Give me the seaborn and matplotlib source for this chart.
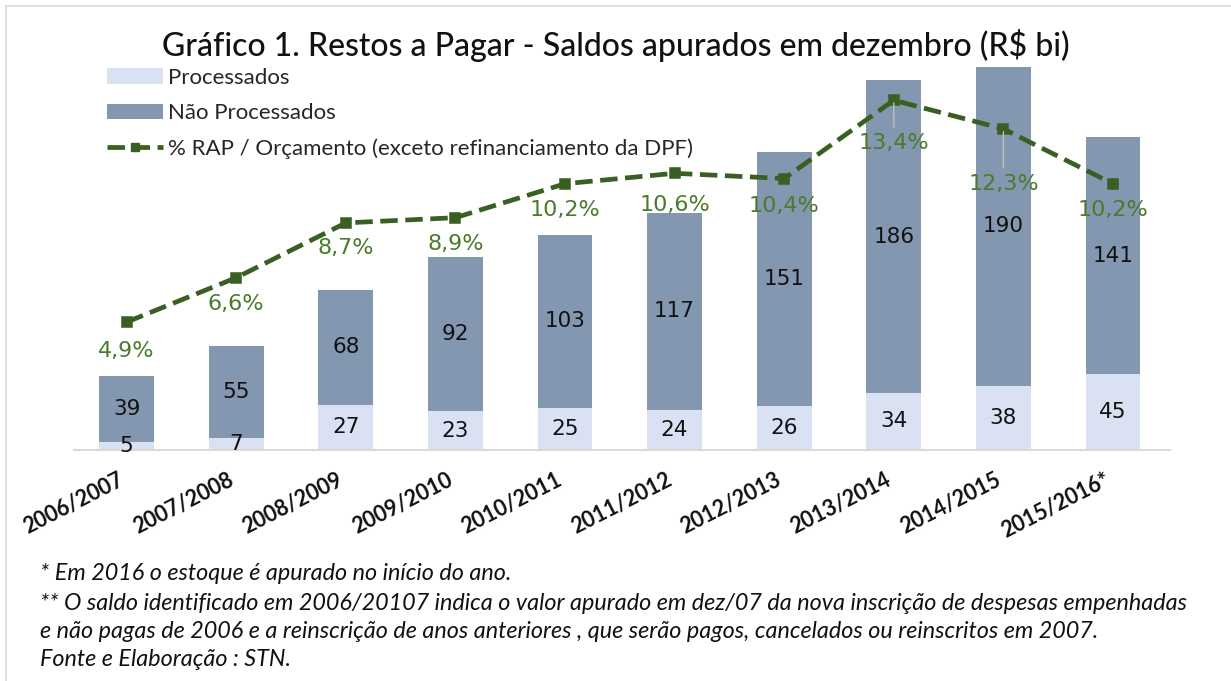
import numpy as np
import pandas as pd
import seaborn as sns
import matplotlib.pyplot as plt
import matplotlib.transforms as mtransforms
from matplotlib.patches import Patch
from matplotlib.lines import Line2D

# Restos a Pagar - saldos em dezembro (R$ bi)
periods = ["2006/2007", "2007/2008", "2008/2009", "2009/2010", "2010/2011",
           "2011/2012", "2012/2013", "2013/2014", "2014/2015", "2015/2016*"]
processados = [5, 7, 27, 23, 25, 24, 26, 34, 38, 45]
nao_processados = [39, 55, 68, 92, 103, 117, 151, 186, 190, 141]
pct_orcamento = [4.9, 6.6, 8.7, 8.9, 10.2, 10.6, 10.4, 13.4, 12.3, 10.2]

# label offsets below the points (pixels)
pct_offsets = [29, 26, 25, 26, 26, 32, 27, 43, 55, 26]

df = pd.DataFrame({
    "periodo": periods,
    "proc": processados,
    "nao_proc": nao_processados,
})
df["total"] = df["proc"] + df["nao_proc"]

light = "#D9E1F2"
dark = "#8497B0"
green = "#3A5F22"
green_txt = "#4B7A2B"

sns.set_theme(style="white")
plt.rcParams["font.family"] = ["DejaVu Sans"]

fig = plt.figure(figsize=(12.31, 6.81), dpi=100)
ax = fig.add_axes([74 / 1231, 1 - 450 / 681, (1170 - 74) / 1231, 390 / 681])

# stacked look: total bar in dark, processed part over it in light
sns.barplot(data=df, x="periodo", y="total", color=dark, saturation=1,
            width=0.5, ax=ax, edgecolor="none")
sns.barplot(data=df, x="periodo", y="proc", color=light, saturation=1,
            width=0.5, ax=ax, edgecolor="none")

ax.set_ylim(0, 232)
ax.set_xlim(-0.48, 9.52)
ax.set_xlabel("")
ax.set_ylabel("")
ax.set_yticks([])
for s in ["top", "right", "left"]:
    ax.spines[s].set_visible(False)
ax.spines["bottom"].set_color("#D9D9D9")
ax.spines["bottom"].set_linewidth(1.5)
ax.tick_params(axis="x", length=0, pad=14)
ax.set_xticks(range(len(periods)))
ax.set_xticklabels(periods, rotation=27, ha="right", va="top",
                   rotation_mode="anchor", fontsize=15.5, fontweight="bold",
                   family=["Lato", "DejaVu Sans"], color="#111111")
shift = mtransforms.ScaledTranslation(-9 / 100, 0, fig.dpi_scale_trans)
for lbl in ax.get_xticklabels():
    lbl.set_transform(lbl.get_transform() + shift)

for i in range(len(periods)):
    p = processados[i]
    n = nao_processados[i]
    ax.text(i, p / 2, f"{p}", ha="center", va="center", fontsize=15.5, color="#111111")
    ax.text(i, p + n / 2, f"{n}", ha="center", va="center", fontsize=15.5, color="#111111")

# % RAP / Orçamento on a secondary axis
ax2 = ax.twinx()
sns.pointplot(x=periods, y=pct_orcamento, color=green, markers="s",
              linestyles="--", ax=ax2, errorbar=None,
              markersize=6, linewidth=3.4)
ax2.set_ylim(0, 14.94)
ax2.set_xlim(-0.48, 9.52)
ax2.set_yticks([])
ax2.set_ylabel("")
for s in ax2.spines.values():
    s.set_visible(False)

for i, v in enumerate(pct_orcamento):
    arrow = None
    if pct_offsets[i] > 40:
        arrow = dict(arrowstyle="-", color="#BFBFBF", lw=1, shrinkA=2, shrinkB=2)
    ax2.annotate(f"{v:.1f}%".replace(".", ","), xy=(i, v),
                 xytext=(0, -pct_offsets[i]), textcoords="offset pixels",
                 ha="center", va="center", fontsize=16, color=green_txt,
                 arrowprops=arrow)

# legend
handles = [
    Patch(facecolor=light, edgecolor="none"),
    Patch(facecolor=dark, edgecolor="none"),
    Line2D([0], [0], color=green, lw=3.4, ls="--", marker="s", markersize=6),
]
labels = ["Processados", "Não Processados",
          "% RAP / Orçamento (exceto refinanciamento da DPF)"]
fig.legend(handles, labels, loc="upper left",
           bbox_to_anchor=(107 / 1231, 1 - 68 / 681), frameon=False,
           prop={"family": ["Lato", "DejaVu Sans"], "size": 16},
           handlelength=2.5, handletextpad=0.25, labelspacing=0.69,
           borderpad=0, borderaxespad=0)

fig.text(0.5, 1 - 45 / 681,
         "Gráfico 1. Restos a Pagar - Saldos apurados em dezembro (R$ bi)",
         ha="center", va="center", fontsize=23, color="#111111",
         fontweight="medium", family=["Lato", "DejaVu Sans"])

notes = [
    "* Em 2016 o estoque é apurado no início do ano.",
    "** O saldo identificado em 2006/20107 indica o valor apurado em dez/07 da nova inscrição de despesas empenhadas",
    "e não pagas de 2006 e a reinscrição de anos anteriores , que serão pagos, cancelados ou reinscritos em 2007.",
    "Fonte e Elaboração : STN.",
]
note_y = [573, 603, 632, 660]
for t, y in zip(notes, note_y):
    fig.text(40 / 1231, 1 - y / 681, t, ha="left", va="center", fontsize=16.8,
             fontstyle="italic", color="#111111", family=["Lato", "DejaVu Sans"])

# thin frame lines (top and left)
fig.add_artist(Line2D([6 / 1231, 1], [1 - 6 / 681, 1 - 6 / 681],
                      color="#D9D9D9", lw=1.2, transform=fig.transFigure))
fig.add_artist(Line2D([6 / 1231, 6 / 1231], [0, 1 - 6 / 681],
                      color="#D9D9D9", lw=1.2, transform=fig.transFigure))

fig.savefig("out.png", dpi=100, facecolor="white")
